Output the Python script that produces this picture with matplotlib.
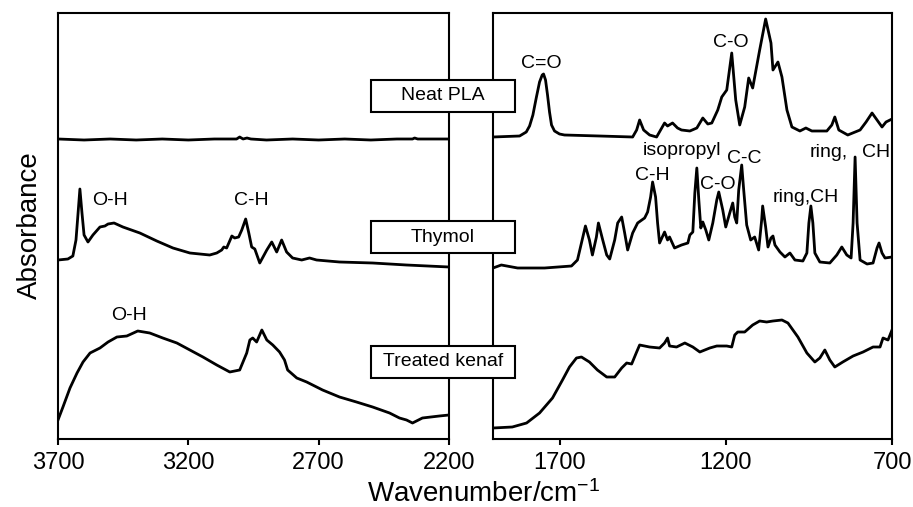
import matplotlib
matplotlib.use("Agg")
import matplotlib.pyplot as plt
from matplotlib.patches import Rectangle

plt.rcParams['font.family'] = ['Liberation Sans', 'DejaVu Sans']
plt.rcParams['mathtext.fontset'] = 'custom'
plt.rcParams['mathtext.rm'] = 'Liberation Sans'
plt.rcParams['mathtext.it'] = 'Liberation Sans'

# ---- data (wavenumber cm-1, absorbance a.u., spectra stacked) ----
# left panel 3700-2200
pla_left_wn = [3700, 3600, 3500, 3400, 3300, 3200, 3100, 3015, 3003, 2990, 2975, 2960,
               2900, 2800, 2700, 2600, 2500, 2400, 2340, 2332, 2320, 2200]
pla_left_abs = [3.01, 3.00, 3.01, 3.00, 3.01, 3.00, 3.01, 3.01, 3.03, 3.01, 3.02, 3.01,
                3.00, 3.01, 3.00, 3.01, 3.00, 3.01, 3.01, 3.02, 3.01, 3.01]

thy_left_wn = [3700, 3662, 3643, 3631, 3623, 3616, 3608, 3600, 3585, 3566,
               3539, 3520, 3508, 3485, 3451, 3386, 3321, 3259, 3194, 3118,
               3091, 3072, 3064, 3053, 3033, 3022, 3007, 2995, 2980, 2968,
               2957, 2945, 2926, 2899, 2880, 2861, 2842, 2823, 2800, 2765,
               2735, 2708, 2620, 2493, 2363, 2200]
thy_left_abs = [1.80, 1.81, 1.84, 2.00, 2.27, 2.51, 2.27, 2.05, 1.98, 2.05,
                2.13, 2.14, 2.16, 2.17, 2.13, 2.07, 1.99, 1.92, 1.87, 1.85,
                1.87, 1.90, 1.93, 1.92, 2.04, 2.02, 2.03, 2.10, 2.21, 2.07,
                1.93, 1.91, 1.77, 1.90, 1.98, 1.88, 2.00, 1.88, 1.82, 1.80,
                1.82, 1.80, 1.78, 1.77, 1.75, 1.73]

ken_left_wn = [3700, 3681, 3654, 3627, 3604, 3577, 3539, 3508, 3474, 3436,
               3394, 3348, 3298, 3244, 3194, 3144, 3091, 3041, 3003, 2976,
               2964, 2953, 2938, 2918, 2899, 2876, 2850, 2831, 2819, 2784,
               2746, 2685, 2620, 2555, 2493, 2428, 2390, 2363, 2340, 2302,
               2237, 2200]
ken_left_abs = [0.20, 0.33, 0.52, 0.67, 0.78, 0.87, 0.92, 0.98, 1.03, 1.04,
                1.09, 1.07, 1.02, 0.97, 0.90, 0.83, 0.75, 0.68, 0.70, 0.87,
                1.00, 1.02, 0.98, 1.10, 1.00, 0.95, 0.88, 0.80, 0.70, 0.62,
                0.58, 0.50, 0.43, 0.38, 0.33, 0.27, 0.22, 0.20, 0.17, 0.22,
                0.24, 0.25]

# right panel 1900-700
pla_right_wn = [1900, 1820, 1800, 1790, 1780, 1770, 1760, 1752, 1748, 1742,
                1736, 1730, 1724, 1715, 1700, 1685, 1580,
                1480, 1468, 1459, 1447, 1429, 1408, 1384, 1375, 1360, 1345,
                1333, 1308, 1287, 1269, 1254, 1242, 1224, 1212, 1197, 1182,
                1170, 1158, 1143, 1131, 1119, 1098, 1080, 1064, 1058, 1043,
                1031, 1016, 1001, 977, 959, 941, 896, 881, 872, 860,
                833, 796, 778, 760, 745, 730, 718, 700]
pla_right_abs = [3.03, 3.04, 3.08, 3.14, 3.25, 3.42, 3.58, 3.65, 3.66, 3.60,
                 3.45, 3.28, 3.15, 3.09, 3.06, 3.05, 3.04,
                 3.03, 3.10, 3.20, 3.10, 3.05, 3.03, 3.17, 3.14, 3.17, 3.12,
                 3.10, 3.09, 3.12, 3.22, 3.16, 3.17, 3.30, 3.43, 3.50, 3.87,
                 3.40, 3.15, 3.33, 3.62, 3.52, 3.90, 4.21, 3.97, 3.70, 3.78,
                 3.63, 3.30, 3.13, 3.09, 3.12, 3.09, 3.09, 3.15, 3.23, 3.10,
                 3.05, 3.10, 3.18, 3.27, 3.20, 3.13, 3.18, 3.21]

thy_right_wn = [1900, 1875, 1826, 1745, 1664, 1646, 1634, 1622, 1610, 1601,
                1589, 1583, 1570, 1558, 1549, 1534, 1525, 1513, 1504, 1495,
                1480, 1465, 1444, 1435, 1426, 1420, 1411, 1405, 1399, 1384,
                1375, 1369, 1354, 1333, 1314, 1308, 1299, 1293, 1287, 1281,
                1275, 1269, 1260, 1251, 1239, 1227, 1221, 1209, 1200, 1188,
                1179, 1173, 1167, 1161, 1152, 1146, 1137, 1125, 1113, 1101,
                1092, 1089, 1080, 1073, 1064, 1058, 1052, 1037, 1022, 1007,
                992, 968, 956, 950, 944, 938, 932, 917, 887, 866,
                851, 836, 823, 817, 811, 805, 796, 775, 757, 745,
                739, 730, 721, 700]
thy_right_abs = [1.72, 1.75, 1.72, 1.72, 1.74, 1.80, 1.97, 2.14, 2.00, 1.85,
                 2.03, 2.17, 2.00, 1.85, 1.81, 2.00, 2.17, 2.23, 2.07, 1.90,
                 2.07, 2.17, 2.22, 2.28, 2.43, 2.58, 2.43, 2.17, 1.97, 2.08,
                 2.00, 2.03, 1.92, 1.95, 1.97, 2.05, 2.08, 2.47, 2.72, 2.40,
                 2.12, 2.18, 2.10, 2.00, 2.17, 2.40, 2.48, 2.30, 2.13, 2.27,
                 2.37, 2.23, 2.17, 2.50, 2.75, 2.50, 2.15, 2.00, 2.03, 1.90,
                 2.20, 2.34, 2.13, 1.93, 2.02, 2.04, 1.95, 1.88, 1.83, 1.87,
                 1.80, 1.79, 1.87, 2.17, 2.34, 2.17, 1.87, 1.78, 1.77, 1.85,
                 1.93, 1.85, 1.82, 2.17, 2.83, 2.17, 1.80, 1.76, 1.77, 1.92,
                 1.97, 1.87, 1.82, 1.83]

ken_right_wn = [1900, 1842, 1799, 1760, 1721, 1691, 1670, 1649, 1634, 1610,
                1586, 1558, 1534, 1513, 1498, 1483, 1468, 1459, 1429, 1399,
                1384, 1375, 1369, 1348, 1323, 1299, 1278, 1248, 1227, 1197,
                1182, 1173, 1164, 1143, 1119, 1098, 1077, 1058, 1031, 1013,
                983, 956, 932, 917, 902, 887, 872, 848, 817, 787,
                757, 736, 727, 712, 700]
ken_right_abs = [0.12, 0.13, 0.17, 0.27, 0.42, 0.60, 0.73, 0.82, 0.83, 0.78,
                 0.70, 0.63, 0.63, 0.72, 0.77, 0.76, 0.88, 0.95, 0.93, 0.92,
                 0.97, 1.02, 0.94, 0.93, 0.97, 0.93, 0.88, 0.92, 0.94, 0.94,
                 0.93, 1.05, 1.08, 1.08, 1.15, 1.19, 1.18, 1.19, 1.20, 1.17,
                 1.03, 0.87, 0.78, 0.82, 0.90, 0.80, 0.73, 0.78, 0.84, 0.88,
                 0.93, 0.93, 1.02, 1.00, 1.10]

left_ticks = [3700, 3200, 2700, 2200]
right_ticks = [1700, 1200, 700]

# band labels: (text, wavenumber, absorbance, alignment)
left_notes = [("O-H", 3501, 2.35, 'center'), ("C-H", 2957, 2.35, 'center'),
              ("O-H", 3428, 1.20, 'center')]
right_notes = [("C=O", 1754, 3.72, 'center'), ("C-O", 1185, 3.93, 'center'),
               ("isopropyl", 1333, 2.85, 'center'), ("C-H", 1420, 2.60, 'center'),
               ("C-O", 1224, 2.51, 'center'), ("C-C", 1143, 2.77, 'center'),
               ("ring,CH", 959, 2.38, 'center'), ("ring,", 833, 2.83, 'right'),
               ("CH", 790, 2.83, 'left')]

sample_names = ["Neat PLA", "Thymol", "Treated kenaf"]

# ---- figure ----
W, H = 913, 507
fig = plt.figure(figsize=(W / 100, H / 100), dpi=100)
ax1 = fig.add_axes([58 / W, 1 - 439 / H, (449 - 58) / W, (439 - 13) / H])
ax2 = fig.add_axes([493 / W, 1 - 439 / H, (892 - 493) / W, (439 - 13) / H])

lw = 2.0
ax1.plot(pla_left_wn, pla_left_abs, color='black', lw=lw)
ax1.plot(thy_left_wn, thy_left_abs, color='black', lw=lw)
ax1.plot(ken_left_wn, ken_left_abs, color='black', lw=lw)
ax2.plot(pla_right_wn, pla_right_abs, color='black', lw=lw)
ax2.plot(thy_right_wn, thy_right_abs, color='black', lw=lw)
ax2.plot(ken_right_wn, ken_right_abs, color='black', lw=lw)

ax1.set_xlim(3700, 2200)
ax2.set_xlim(1900, 700)
ax1.set_xticks(left_ticks)
ax2.set_xticks(right_ticks)

for ax in (ax1, ax2):
    ax.set_ylim(0.01, 4.27)
    ax.set_yticks([])
    for s in ax.spines.values():
        s.set_linewidth(1.5)
    ax.tick_params(axis='x', direction='out', length=4.5, width=1.5,
                   labelsize=17, pad=5)

for txt, x, y, ha in left_notes:
    ax1.text(x, y, txt, ha=ha, va='baseline', fontsize=14)
for txt, x, y, ha in right_notes:
    ax2.text(x, y, txt, ha=ha, va='baseline', fontsize=14)

# sample name boxes spanning the axis break
box_bottoms = [112, 253, 378]
for name, bot in zip(sample_names, box_bottoms):
    fig.add_artist(Rectangle((371 / W, 1 - bot / H), 144 / W, 32 / H,
                             transform=fig.transFigure, facecolor='white',
                             edgecolor='black', lw=1.5, zorder=5))
    fig.text(443 / W, 1 - (bot - 16) / H, name, ha='center', va='center',
             fontsize=14, zorder=6)

fig.text(30 / W, 0.556, 'Absorbance', rotation=90, ha='center', va='center',
         fontsize=20)
fig.text(484 / W, 1 - 502 / H, 'Wavenumber/cm$^{-1}$', ha='center',
         va='baseline', fontsize=20)

fig.savefig('out.png', dpi=100)
